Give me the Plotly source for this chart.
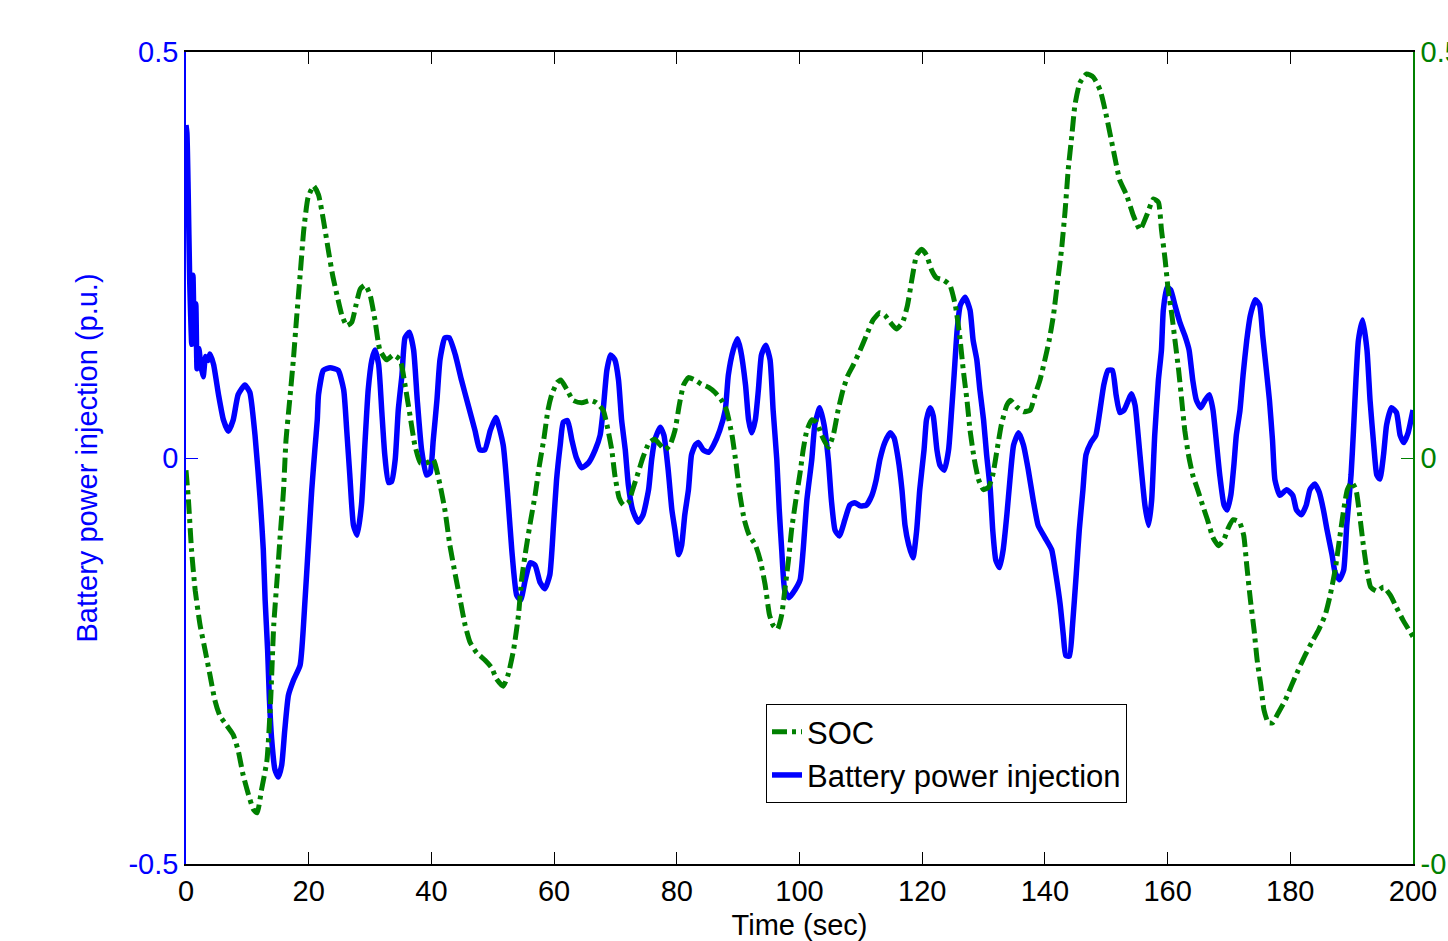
import plotly.graph_objects as go

# ---- data ----
time_power = [0, 0.15, 0.35, 0.6, 0.93, 1.14, 1.35, 1.6, 1.8, 2.1, 2.4, 2.8, 3.2, 3.6, 3.9, 4.5,
              5.3, 6.1, 6.9, 7.7, 8.5, 9.6, 10.4, 11.25, 12.1, 12.6, 12.9, 13.3, 13.6, 13.97,
              14.5, 15.05, 15.6, 16.1, 16.7, 17.5, 18.6, 19.4, 19.9, 20.5, 21.0, 21.4, 21.6,
              22.4, 23.5, 24.8, 25.7, 26.2, 26.7, 27.3, 27.9, 28.6, 29.2, 29.7, 30.3, 30.8,
              31.4, 31.9, 32.4, 33.0, 33.5, 34.1, 34.6, 35.2, 35.7, 36.4, 37.1, 37.7, 38.4,
              39.2, 39.8, 40.3, 40.9, 41.4, 42.2, 42.9, 43.9, 44.9, 46.0, 47.1, 47.9, 48.7,
              49.6, 50.5, 51.7, 52.5, 53.1, 53.9, 54.55, 55.3, 56.1, 56.9, 57.7, 58.5, 59.3,
              59.9, 60.4, 61.0, 61.5, 62.2, 62.9, 63.6, 64.5, 65.6, 66.7, 67.5, 68.0, 68.6,
              69.2, 69.9, 70.5, 71.0, 71.6, 72.1, 72.8, 73.7, 74.5, 75.4, 75.9, 76.4, 77.3,
              77.9, 78.6, 79.2, 79.7, 80.3, 80.8, 81.3, 81.9, 82.4, 83.0, 83.5, 84.3, 85.2,
              86.0, 87.0, 87.9, 88.4, 89.2, 89.9, 90.4, 91.2, 91.7, 92.2, 92.8, 93.3, 93.8,
              94.5, 95.2, 95.7, 96.3, 96.7, 97.1, 97.6, 98.3, 99.3, 100.1, 100.6, 101.2,
              102.0, 102.5, 103.3, 104.0, 104.7, 105.2, 105.8, 106.5, 107.4, 108.2, 109.0,
              109.9, 110.9, 111.8, 112.5, 113.1, 113.9, 114.8, 115.4, 116.1, 116.7, 117.2,
              117.8, 118.5, 119.1, 119.6, 120.3, 120.7, 121.3, 121.8, 122.4, 122.9, 123.6,
              124.3, 124.8, 125.2, 125.7, 126.2, 127.0, 127.8, 128.3, 128.9, 129.4, 130.0,
              130.5, 131.1, 131.5, 132.0, 132.6, 133.2, 133.8, 134.3, 134.9, 135.7, 136.5,
              137.3, 138.1, 138.9, 140.0, 141.1, 141.8, 142.5, 143.0, 143.4, 144.0, 144.5,
              145.1, 145.6, 146.2, 146.7, 147.5, 148.3, 149.0, 149.6, 150.3, 151.0, 151.6,
              152.2, 152.9, 153.6, 154.1, 154.7, 155.2, 155.8, 156.3, 156.9, 157.4, 157.9,
              158.5, 159.0, 159.3, 159.9, 160.5, 161.2, 162.0, 162.8, 163.5, 164.1, 164.7,
              165.4, 166.1, 166.8, 167.4, 168.0, 168.5, 169.2, 169.7, 170.3, 170.8, 171.2,
              171.8, 172.3, 172.9, 173.5, 174.3, 175.0, 175.5, 176.1, 176.6, 177.1, 177.5,
              178.3, 179.4, 180.4, 181.0, 181.8, 182.6, 183.2, 184.0, 184.7, 185.4, 186.0,
              186.8, 187.3, 188.0, 188.7, 189.2, 189.9, 190.3, 190.7, 191.1, 191.8, 192.5,
              193.0, 193.6, 194.1, 194.6, 195.2, 195.7, 196.5, 197.3, 197.9, 198.5, 199.2, 200.0]
battery_power = [0.41, 0.40, 0.33, 0.22, 0.14, 0.225, 0.15, 0.19, 0.11, 0.135, 0.115, 0.10, 0.125, 0.12, 0.128, 0.115,
                 0.078, 0.047, 0.033, 0.047, 0.078, 0.090, 0.081, 0.028, -0.052, -0.113, -0.175, -0.236, -0.298, -0.347,
                 -0.384, -0.393, -0.378, -0.335, -0.292, -0.274, -0.255, -0.175, -0.113, -0.039, 0.010, 0.047, 0.078,
                 0.108, 0.111, 0.108, 0.084, 0.034, -0.021, -0.083, -0.095, -0.058, 0.022, 0.084, 0.121, 0.133,
                 0.115, 0.059, 0.004, -0.030, -0.029, -0.002, 0.059, 0.102, 0.148, 0.155, 0.133, 0.071, 0.010,
                 -0.021, -0.018, 0.022, 0.071, 0.121, 0.148, 0.148, 0.127, 0.096, 0.065, 0.034, 0.010, 0.010,
                 0.034, 0.050, 0.016, -0.052, -0.113, -0.169, -0.175, -0.150, -0.129, -0.132, -0.153, -0.161, -0.144,
                 -0.083, -0.027, 0.016, 0.044, 0.046, 0.022, 0.001, -0.012, -0.006, 0.010, 0.028, 0.059, 0.108,
                 0.127, 0.121, 0.096, 0.047, 0.010, -0.033, -0.064, -0.079, -0.070, -0.039, -0.002, 0.022, 0.038,
                 0.028, -0.015, -0.064, -0.089, -0.119, -0.107, -0.070, -0.039, 0.004, 0.016, 0.019, 0.010, 0.007,
                 0.016, 0.034, 0.059, 0.102, 0.133, 0.147, 0.133, 0.090, 0.047, 0.031, 0.047, 0.084, 0.127,
                 0.139, 0.121, 0.059, -0.002, -0.064, -0.113, -0.163, -0.172, -0.162, -0.150, -0.113, -0.052,
                 -0.002, 0.041, 0.062, 0.041, -0.002, -0.052, -0.089, -0.096, -0.076, -0.058, -0.055,
                 -0.059, -0.058, -0.046, -0.027, -0.002, 0.019, 0.031, 0.025, -0.002, -0.039, -0.083,
                 -0.107, -0.123, -0.089, -0.039, 0.010, 0.047, 0.062, 0.052, 0.010, -0.009, -0.015,
                 0.010, 0.059, 0.102, 0.158, 0.188, 0.198, 0.182, 0.145, 0.121, 0.084, 0.047,
                 0.004, -0.039, -0.089, -0.126, -0.135, -0.113, -0.070, -0.027, 0.016, 0.031, 0.016,
                 -0.015, -0.052, -0.083, -0.098, -0.113, -0.144, -0.181, -0.218, -0.243, -0.244, -0.206,
                 -0.144, -0.089, -0.039, 0.004, 0.019, 0.028, 0.060, 0.090, 0.108, 0.108, 0.078,
                 0.056, 0.059, 0.071, 0.079, 0.065, 0.028, -0.021, -0.058, -0.083, -0.052, 0.028,
                 0.096, 0.133, 0.182, 0.210, 0.207, 0.188, 0.167, 0.151, 0.133, 0.096, 0.071,
                 0.062, 0.071, 0.078, 0.059, 0.016, -0.021, -0.058, -0.064, -0.046, -0.009, 0.028,
                 0.059, 0.102, 0.145, 0.176, 0.195, 0.188, 0.151, 0.108, 0.071, 0.022, -0.027,
                 -0.046, -0.039, -0.046, -0.064, -0.070, -0.058, -0.039, -0.032, -0.042, -0.064, -0.089,
                 -0.119, -0.141, -0.150, -0.138, -0.083, -0.021, 0.034, 0.096, 0.145, 0.170, 0.133,
                 0.071, 0.016, -0.021, -0.026, 0.004, 0.041, 0.062, 0.056, 0.028, 0.019, 0.031, 0.059]

time_soc = [0, 0.4, 0.9, 1.5, 2.3, 3.1, 3.9, 4.7, 5.5, 6.6, 7.7, 8.5, 9.3, 10.2, 11.0, 11.6, 12.3, 13.2,
            13.8, 14.3, 14.9, 15.3, 15.9, 16.3, 16.9, 17.5, 18.0, 18.6, 19.2, 19.9, 20.8, 21.6, 22.4,
            23.2, 23.9, 24.6, 25.4, 26.2, 27.0, 27.7, 28.4, 29.2, 30.0, 30.8, 31.6, 32.7, 33.8, 34.9,
            35.7, 36.5, 37.3, 38.2, 39.2, 40.3, 41.4, 42.2, 43.0, 43.9, 44.7, 45.5, 46.3, 47.4, 48.75,
            49.8, 50.6, 51.7, 52.5, 53.4, 54.2, 54.7, 55.4, 56.2, 56.9, 57.6, 58.3, 59.0, 59.6, 60.5,
            61.1, 62.1, 63.1, 64.5, 65.9, 66.9, 68.0, 68.8, 69.4, 69.9, 70.6, 71.3, 72.1, 72.8, 73.7,
            74.5, 75.5, 76.4, 77.3, 78.1, 78.9, 79.7, 80.4, 81.1, 81.9, 83.0, 84.0, 85.2, 86.2, 87.3,
            88.1, 89.0, 89.7, 90.3, 91.0, 91.8, 92.8, 93.6, 94.4, 95.1, 95.7, 96.4, 97.1, 97.6, 98.2,
            98.7, 99.4, 100.1, 100.6, 101.2, 102.0, 102.8, 103.6, 104.7, 105.5, 106.3, 107.1, 107.9,
            108.8, 109.9, 110.9, 112.0, 113.1, 113.9, 114.8, 115.8, 116.8, 117.6, 118.3, 119.1, 119.9,
            120.7, 121.5, 122.3, 123.5, 124.5, 125.4, 126.1, 126.7, 127.3, 127.8, 128.5, 129.2, 130.0,
            130.8, 131.5, 132.2, 132.9, 133.8, 134.4, 135.4, 136.5, 137.6, 138.4, 139.2, 140.0, 140.7,
            141.4, 142.0, 142.7, 143.3, 143.8, 144.4, 144.9, 145.7, 146.8, 147.9, 149.0, 149.8, 150.6,
            151.4, 152.2, 153.3, 154.4, 155.5, 156.6, 157.7, 158.5, 159.0, 159.6, 160.1, 160.7, 161.2,
            161.8, 162.3, 162.8, 163.4, 164.1, 164.9, 165.7, 166.5, 167.4, 168.3, 169.2, 169.9, 170.7,
            171.7, 172.4, 172.9, 173.5, 174.1, 174.6, 175.2, 175.7, 176.4, 177.1, 178.1, 179.2, 180.2,
            181.3, 182.4, 183.5, 184.6, 185.7, 186.5, 187.3, 188.0, 188.7, 189.3, 190.0, 190.7, 191.3,
            191.9, 192.5, 193.1, 194.1, 195.2, 196.3, 197.3, 198.4, 200.0]
soc = [-0.015, -0.052, -0.113, -0.163, -0.206, -0.236, -0.267, -0.298, -0.317, -0.329, -0.341, -0.360, -0.390, -0.415, -0.433, -0.437, -0.409, -0.372,
       -0.298, -0.206, -0.144, -0.101, -0.039, 0.022, 0.071, 0.121, 0.170, 0.225, 0.281, 0.321, 0.335, 0.324, 0.293,
       0.256, 0.225, 0.201, 0.176, 0.163, 0.167, 0.188, 0.208, 0.213, 0.201, 0.170, 0.133, 0.121, 0.127, 0.121,
       0.090, 0.053, 0.016, -0.006, -0.006, -0.002, -0.033, -0.064, -0.107, -0.144, -0.175, -0.206, -0.227, -0.240, -0.249,
       -0.258, -0.272, -0.281, -0.267, -0.236, -0.193, -0.150, -0.113, -0.076, -0.046, -0.009, 0.022, 0.059, 0.078, 0.093,
       0.096, 0.084, 0.071, 0.068, 0.071, 0.068, 0.059, 0.034, 0.010, -0.021, -0.049, -0.058, -0.055, -0.039, -0.018,
       0.001, 0.019, 0.023, 0.016, 0.010, 0.016, 0.034, 0.065, 0.090, 0.099, 0.096, 0.091, 0.087, 0.081, 0.071,
       0.059, 0.028, -0.009, -0.046, -0.076, -0.095, -0.107, -0.126, -0.156, -0.193, -0.206, -0.211, -0.193, -0.163, -0.126,
       -0.089, -0.052, -0.018, 0.010, 0.034, 0.047, 0.044, 0.028, 0.013, 0.028, 0.059, 0.084, 0.102,
       0.115, 0.133, 0.151, 0.170, 0.179, 0.176, 0.167, 0.159, 0.167, 0.188, 0.219, 0.250, 0.257,
       0.250, 0.232, 0.222, 0.219, 0.213, 0.188, 0.151, 0.108, 0.071, 0.034, -0.002, -0.027, -0.039,
       -0.036, -0.021, 0.010, 0.041, 0.065, 0.071, 0.063, 0.057, 0.059, 0.078, 0.096, 0.121, 0.145,
       0.176, 0.213, 0.256, 0.305, 0.355, 0.398, 0.435, 0.462, 0.473, 0.469, 0.453, 0.429, 0.400,
       0.370, 0.342, 0.324, 0.299, 0.281, 0.299, 0.319, 0.315, 0.281, 0.244, 0.207, 0.176, 0.145,
       0.108, 0.071, 0.034, 0.004, -0.021, -0.039, -0.058, -0.076, -0.098, -0.108, -0.100, -0.086, -0.076,
       -0.079, -0.095, -0.132, -0.175, -0.212, -0.249, -0.280, -0.310, -0.326, -0.326, -0.313, -0.298, -0.280,
       -0.261, -0.243, -0.227, -0.212, -0.193, -0.169, -0.138, -0.101, -0.064, -0.039, -0.030, -0.039, -0.070,
       -0.107, -0.138, -0.159, -0.164, -0.159, -0.169, -0.184, -0.200, -0.220]

x_ticks = [0, 20, 40, 60, 80, 100, 120, 140, 160, 180, 200]
y_ticks = [-0.5, 0, 0.5]
y_tick_text = ["-0.5", "0", "0.5"]

BLUE = "#0000FF"
GREEN = "#008000"
FONT = "Liberation Sans, Arial, sans-serif"

fig = go.Figure()
fig.add_trace(go.Scatter(
    x=time_soc, y=soc, name="SOC", yaxis="y2", mode="lines",
    line=dict(color=GREEN, width=5, dash="15px,5px,4px,5px", shape="spline", smoothing=0.5),
))
fig.add_trace(go.Scatter(
    x=time_power, y=battery_power, name="Battery power injection", mode="lines",
    line=dict(color=BLUE, width=5.5, shape="spline", smoothing=0.5),
))

fig.update_layout(
    width=1448, height=941, autosize=False,
    margin=dict(l=186, r=35, t=52, b=77),
    paper_bgcolor="white", plot_bgcolor="white",
    font=dict(family=FONT, size=29, color="black"),
    showlegend=True,
    legend=dict(
        x=(1127 - 186) / 1227, y=(864 - 704) / 812, xanchor="right", yanchor="top",
        bordercolor="black", borderwidth=1, bgcolor="white",
        font=dict(family=FONT, size=31, color="black"),
        traceorder="normal",
    ),
    xaxis=dict(
        range=[0, 200], tickvals=x_ticks, ticks="inside", ticklen=12, tickcolor="black",
        showline=True, linecolor="black", linewidth=1.5, mirror="ticks",
        showgrid=False, zeroline=False, automargin=False,
        tickfont=dict(family=FONT, size=29, color="black"), ticklabelstandoff=0,
        title=dict(text="Time (sec)", font=dict(family=FONT, size=29, color="black"), standoff=16),
    ),
    yaxis=dict(
        range=[-0.5, 0.5], tickvals=y_ticks, ticktext=y_tick_text, ticks="inside", ticklen=12,
        tickcolor=BLUE, showline=True, linecolor=BLUE, linewidth=1.5,
        showgrid=False, zeroline=False, automargin=False,
        tickfont=dict(family=FONT, size=29, color=BLUE),
        title=dict(text="Battery power injection (p.u.)", font=dict(family=FONT, size=29, color=BLUE), standoff=22),
    ),
    yaxis2=dict(
        range=[-0.5, 0.5], tickvals=y_ticks, ticktext=y_tick_text, ticks="inside", ticklen=12,
        tickcolor=GREEN, showline=True, linecolor=GREEN, linewidth=1.5,
        overlaying="y", side="right", showgrid=False, zeroline=False, automargin=False,
        tickfont=dict(family=FONT, size=29, color=GREEN),
    ),
)

fig.write_html("out.html")
